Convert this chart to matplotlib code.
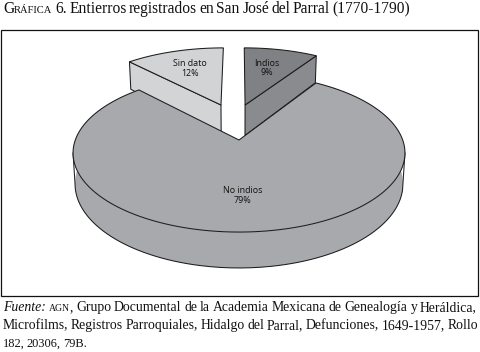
import numpy as np
import matplotlib
matplotlib.use("Agg")
import matplotlib.pyplot as plt
from matplotlib.patches import Polygon, Rectangle

# ---- data ----
categories = ["Indios", "No indios", "Sin dato"]
values = [9, 79, 12]
pct_labels = ["9%", "79%", "12%"]
label_pos = [(267, 68), (242.5, 195.5), (190, 68.5)]
colors_top = ["#808184", "#A7A9AC", "#D1D3D4"]
colors_side = ["#8A8B8E", "#A7A9AC", "#D3D4D6"]

title_words = [[("G", 11.2, "normal"), ("RÁFICA", 7.6, "normal")], "6.", "Entierros", "registrados", "en", "San",
               "José", "del", "Parral", "(1770-1790)"]
line1 = [[("Fuente:", 9.9, "italic")], [("AGN", 7.0, "normal"), (",", 9.9, "normal")], "Grupo", "Documental", "de", "la",
         "Academia", "Mexicana", "de", "Genealogía", "y", "Heráldica,"]
line2 = ["Microfilms,", "Registros", "Parroquiales,", "Hidalgo", "del", "Parral,", "Defunciones,", "1649-1957,", "Rollo"]
line3 = ["182,", "20306,", "79B."]

# ---- projection: pie plane -> picture, with perspective ----
CX, CY = 239.0, 140.0
A, B, K = 163.7, 76.9, 0.1646


def project(u, v, depth=0.0):
    w = 1 + K * v
    shrink = 1 - 0.012 * (depth > 0)
    return CX + shrink * A * u / w, CY - B * v / w + depth / w


def arc(a0, a1, off=(0, 0), depth=0.0, n=160):
    th = np.radians(np.linspace(a0, a1, n))
    return project(off[0] + np.sin(th), off[1] + np.cos(th), depth)


fig = plt.figure(figsize=(4.81, 3.52), dpi=100)
ax = fig.add_axes([0, 0, 1, 1])
ax.set_xlim(0, 481)
ax.set_ylim(352, 0)
ax.axis("off")
ax.add_patch(Rectangle((1.5, 29.5), 476.5, 266.5, fc="white", ec="#111111", lw=0.9, zorder=0))

angles = np.cumsum([0] + values) * 3.6
LW, EC = 0.75, "#1c1c1c"


def small_slice(a0, a1, off, top, side, depth):
    ax_, ay_ = project(off[0], off[1])
    edge = a1 if a1 < 180 else a0
    ex, ey = project(off[0] + np.sin(np.radians(edge)), off[1] + np.cos(np.radians(edge)))
    bx, by = project(off[0] + np.sin(np.radians(edge)), off[1] + np.cos(np.radians(edge)), depth)
    cx_, cy_ = project(off[0], off[1], depth)
    ax.add_patch(Polygon([(ax_, ay_), (ex, ey), (bx, by), (cx_, cy_)], fc=side, ec=EC, lw=LW, zorder=2))
    x, y = arc(a0, a1, off)
    ax.add_patch(Polygon(np.r_[[(ax_, ay_)], np.c_[x, y]], fc=top, ec=EC, lw=LW, zorder=3))


small_slice(angles[0], angles[1], (0.04, 0.492), colors_top[0], colors_side[0], 33)
small_slice(angles[2], angles[3], (-0.119, 0.492), colors_top[2], colors_side[2], 33)

# main slice: side wall, then top face
D = 30
tx, ty = arc(angles[1], angles[2])
bx, by = arc(angles[1], angles[2], depth=D)
ax.add_patch(Polygon(np.r_[np.c_[tx, ty], np.c_[bx, by][::-1]], fc=colors_side[1], ec="none", zorder=4))
lo = np.degrees(np.arccos(-K))
front = arc(lo, 360 - lo, depth=D)
tl = arc(lo, lo, n=1)
tr = arc(360 - lo, 360 - lo, n=1)
ax.plot(np.r_[tl[0], front[0], tr[0]], np.r_[tl[1], front[1], tr[1]], color=EC, lw=LW, zorder=5)
ax.add_patch(Polygon(np.r_[[project(0, 0)], np.c_[tx, ty]], fc=colors_top[1], ec=EC, lw=LW, zorder=6))

for name, pct, (lx, ly) in zip(categories, pct_labels, label_pos):
    ax.text(lx, ly, f"{name}\n{pct}", ha="center", va="center", fontsize=6.4, family="Open Sans",
            linespacing=1.05, color="#111111", zorder=7)

# ---- justified text lines ----
SERIF = "Liberation Serif"
fig.canvas.draw()
rend = fig.canvas.get_renderer()


def set_line(words, x0, base, size, x1=None, gap=0.25):
    norm = [w if isinstance(w, list) else [(w, size, "normal")] for w in words]
    items = []
    total = 0
    for w in norm:
        ww = []
        for txt, sz, st in w:
            t = ax.text(0, base, txt, fontsize=sz, style=st, family=SERIF, ha="left", va="baseline", color="#111111")
            wd = rend.get_text_width_height_descent(txt, t.get_fontproperties(), False)[0]
            ww.append((t, wd))
            total += wd
        items.append(ww)
    sp = size * 100 / 72 * gap if x1 is None else (x1 - x0 - total) / (len(items) - 1)
    x = x0
    for ww in items:
        for t, wd in ww:
            t.set_x(x)
            x += wd
        x += sp


set_line(title_words, 3, 13.3, 11.2, 410)
set_line(line1, 3, 311, 9.9, 477)
set_line(line2, 3, 329, 9.9, 478)
set_line(line3, 3, 347, 8.9, gap=0.17)

fig.savefig("out.png", dpi=100)
